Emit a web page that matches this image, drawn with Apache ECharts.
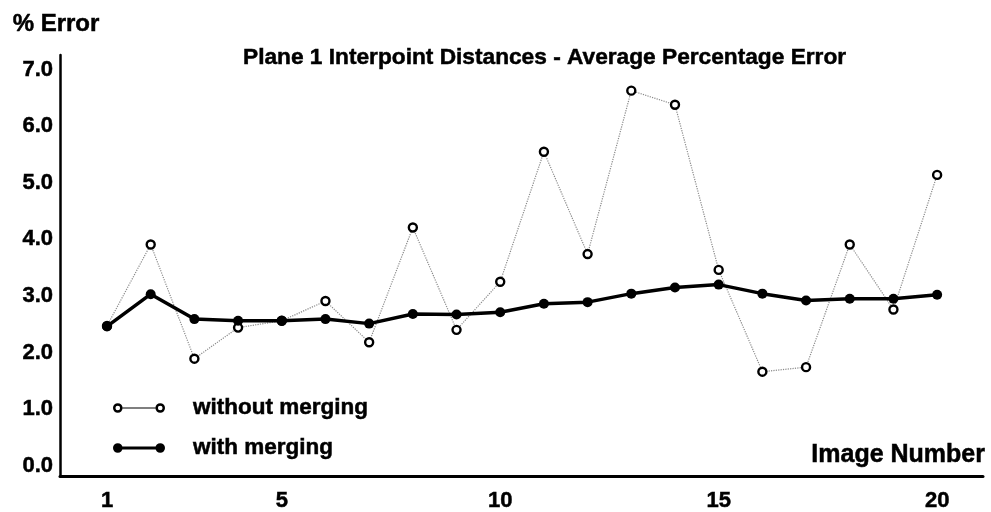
<!DOCTYPE html>
<html>
<head>
<meta charset="utf-8">
<script src="https://cdn.jsdelivr.net/npm/echarts@6/dist/echarts.min.js"></script>
<style>
  html, body { margin: 0; padding: 0; background: #fff; }
  #chart { width: 991px; height: 512px; }
</style>
</head>
<body>
<div id="chart"></div>
<script>
// image numbers on the x axis
const imageNumbers = [1, 2, 3, 4, 5, 6, 7, 8, 9, 10, 11, 12, 13, 14, 15, 16, 17, 18, 19, 20];
// average % error
const withoutMerging = [2.47, 3.91, 1.89, 2.44, 2.56, 2.91, 2.18, 4.21, 2.40, 3.25,
                        5.55, 3.74, 6.63, 6.38, 3.46, 1.66, 1.74, 3.91, 2.76, 5.14];
const withMerging = [2.46, 3.03, 2.59, 2.56, 2.56, 2.59, 2.51, 2.68, 2.67, 2.71,
                     2.86, 2.89, 3.04, 3.15, 3.20, 3.04, 2.92, 2.95, 2.95, 3.02];
const xTickLabels = [1, 5, 10, 15, 20];
const yTickLabels = [0, 1, 2, 3, 4, 5, 6, 7];

const font = '"Liberation Sans", Arial, sans-serif';
// the scanned original has heavy type, a thin outline thickens it a bit
const heavy = { fontFamily: font, fontWeight: 'bold', color: '#000', textBorderColor: '#000', textBorderWidth: 0.5 };

// legend icons: two circles joined by a line
const iconOpen = 'path://M0.5,5A4.5,4.5 0 1,1 9.5,5A4.5,4.5 0 1,1 0.5,5Z M2.8,5A2.2,2.2 0 1,0 7.2,5A2.2,2.2 0 1,0 2.8,5Z M9.5,4.5L40.5,4.5L40.5,5.5L9.5,5.5Z M40.5,5A4.5,4.5 0 1,1 49.5,5A4.5,4.5 0 1,1 40.5,5Z M42.8,5A2.2,2.2 0 1,0 47.2,5A2.2,2.2 0 1,0 42.8,5Z';
const iconFilled = 'path://M0.5,5A4.5,4.5 0 1,1 9.5,5A4.5,4.5 0 1,1 0.5,5Z M9,3.7L41,3.7L41,6.3L9,6.3Z M40.5,5A4.5,4.5 0 1,1 49.5,5A4.5,4.5 0 1,1 40.5,5Z';

const chart = echarts.init(document.getElementById('chart'), null, { renderer: 'canvas' });

const option = {
  backgroundColor: '#fff',
  animation: false,
  title: {
    text: 'Plane 1 Interpoint Distances - Average Percentage Error',
    left: 238,
    top: 41,
    textStyle: Object.assign({}, heavy, { fontSize: 22.7 })
  },
  legend: {
    orient: 'vertical',
    left: 108,
    top: 391,
    itemWidth: 52,
    itemHeight: 10,
    itemGap: 16,
    textStyle: Object.assign({}, heavy, { fontSize: 22.5, lineHeight: 24, padding: [0, 0, 0, 23] }),
    data: [
      { name: 'without merging', icon: iconOpen, itemStyle: { color: '#000', borderWidth: 0 } },
      { name: 'with merging', icon: iconFilled, itemStyle: { color: '#000', borderWidth: 0 } }
    ]
  },
  grid: { left: 60, right: 8, top: 55, bottom: 34 },
  xAxis: {
    type: 'value',
    min: -0.076,
    max: 21.05,
    name: 'Image Number',
    nameLocation: 'end',
    nameGap: 2,
    nameTextStyle: Object.assign({}, heavy, {
      fontSize: 25, align: 'right', verticalAlign: 'bottom', padding: [0, 0, 8, 0]
    }),
    splitLine: { show: false },
    axisTick: { show: false },
    axisLine: { onZero: false, lineStyle: { color: '#000', width: 3 } },
    axisLabel: Object.assign({}, heavy, {
      customValues: xTickLabels,
      margin: 14,
      fontSize: 22
    })
  },
  yAxis: {
    type: 'value',
    min: -0.18,
    max: 7.26,
    name: '% Error',
    nameLocation: 'end',
    nameGap: 19,
    nameTextStyle: Object.assign({}, heavy, { fontSize: 24, align: 'center', padding: [0, 8, 0, 0] }),
    splitLine: { show: false },
    axisTick: { show: false },
    axisLine: { show: true, onZero: false, lineStyle: { color: '#000', width: 2.5 } },
    axisLabel: Object.assign({}, heavy, {
      customValues: yTickLabels,
      margin: 7,
      formatter: v => v.toFixed(1),
      fontSize: 22
    })
  },
  series: [
    {
      name: 'without merging',
      type: 'line',
      data: imageNumbers.map((n, i) => [n, withoutMerging[i]]),
      symbol: 'circle',
      symbolSize: 8,
      lineStyle: { color: '#8a8a8a', width: 1.2, type: 'dotted' },
      itemStyle: { color: '#fff', borderColor: '#000', borderWidth: 2.4 },
      z: 2
    },
    {
      name: 'with merging',
      type: 'line',
      data: imageNumbers.map((n, i) => [n, withMerging[i]]),
      symbol: 'circle',
      symbolSize: 10,
      lineStyle: { color: '#000', width: 3.5 },
      itemStyle: { color: '#000', borderWidth: 0 },
      z: 3
    }
  ]
};

chart.setOption(option);
</script>
</body>
</html>
